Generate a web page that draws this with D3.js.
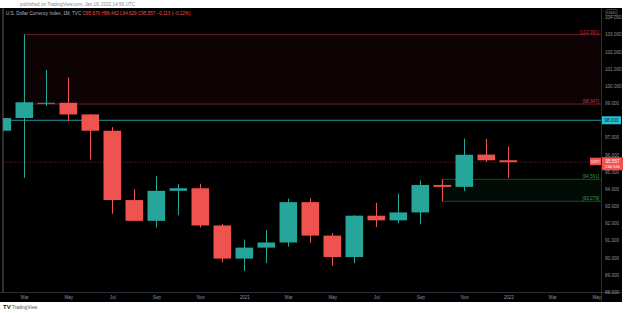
<!DOCTYPE html>
<html><head><meta charset="utf-8">
<script src="https://cdn.jsdelivr.net/npm/d3@7"></script>
<style>html,body{margin:0;padding:0;background:#fff;overflow:hidden}svg{display:block;font-family:"Liberation Sans",Arial,sans-serif}</style>
</head><body><svg id="c" width="625" height="313"></svg>
<script>
// ---- data (monthly DXY candles, Feb 2020 – Jan 2022) ----
const months = ["2020-02","2020-03","2020-04","2020-05","2020-06","2020-07","2020-08","2020-09","2020-10","2020-11","2020-12",
  "2021-01","2021-02","2021-03","2021-04","2021-05","2021-06","2021-07","2021-08","2021-09","2021-10","2021-11","2021-12","2022-01"];
const open  = [97.39,98.13,98.98,99.02,98.34,97.39,93.35,92.14,93.89,94.04,91.87,89.94,90.58,90.88,93.23,91.28,90.03,92.44,92.17,92.63,94.23,94.12,96.00,95.670];
const high  = [99.91,102.991,100.93,100.50,98.36,97.60,93.99,94.74,94.30,94.30,91.96,91.05,91.60,93.44,93.47,91.43,92.46,93.19,93.73,94.50,94.561,96.94,96.91,96.462];
const low   = [97.36,94.65,98.83,97.92,95.71,92.55,92.13,91.75,92.47,91.75,89.72,89.21,89.68,90.63,90.86,89.53,89.66,91.78,92.00,91.94,93.279,93.87,95.57,94.629];
const close = [98.13,99.05,99.02,98.34,97.39,93.35,92.14,93.89,94.04,91.87,89.94,90.58,90.88,93.23,91.28,90.03,92.44,92.17,92.63,94.23,94.12,95.99,95.67,95.557];
const timeTickIdx = [1,3,5,7,9,11,13,15,17,19,21,23,25,27];
const timeTickLabels = ["Mar","May","Jul","Sep","Nov","2021","Mar","May","Jul","Sep","Nov","2022","Mar","May"];
const priceTicks = [88,89,90,91,92,93,94,95,96,97,98,99,100,101,102,103,104];
const redZone = [102.991, 98.947];   // drawn range from Mar 2020
const greenZone = [94.561, 93.279];  // drawn range from Oct 2021
const hLine = 98.0;
const lastPrice = 95.557;

const svg = d3.select("#c");
const W = 625, H = 313;
const panel = {l:0, t:8, r:622, b:302};
const axisX = 601, axisY = 292;

const x = d3.scaleLinear().domain([0,27]).range([2.3, 596.3]);
const y = d3.scaleLinear().domain([88,104]).range([291.9, 17.3]);
const bodyW = 17.6;
const up = "#26a69a", dn = "#ef5350";

// header text
svg.append("text").attr("x",20).attr("y",6).attr("font-size",4.6).attr("fill","#8a8a8a")
  .text("published on TradingView.com, Jan 19, 2022 14:56 UTC");

// panel
svg.append("rect").attr("x",panel.l).attr("y",panel.t).attr("width",panel.r-panel.l).attr("height",panel.b-panel.t).attr("fill","#000");

const defs = svg.append("defs");
defs.append("clipPath").attr("id","plot").append("rect").attr("x",3).attr("y",panel.t).attr("width",axisX-3).attr("height",axisY-panel.t);
const g = svg.append("g").attr("clip-path","url(#plot)");

// zones
g.append("rect").attr("x",x(1)).attr("y",y(redZone[0])).attr("width",axisX-x(1)+5).attr("height",y(redZone[1])-y(redZone[0]))
  .attr("fill","#0d0304").attr("stroke","#6b1d24").attr("stroke-width",1);
g.append("rect").attr("x",x(20)).attr("y",y(greenZone[0])).attr("width",axisX-x(20)+5).attr("height",y(greenZone[1])-y(greenZone[0]))
  .attr("fill","#020b05").attr("stroke","#1d4a27").attr("stroke-width",1);

// horizontal cyan line
g.append("line").attr("x1",0).attr("x2",axisX).attr("y1",y(hLine)).attr("y2",y(hLine)).attr("stroke","#2696a8").attr("stroke-width",1);
// last price dotted line
g.append("line").attr("x1",0).attr("x2",axisX).attr("y1",y(lastPrice)).attr("y2",y(lastPrice)).attr("stroke","#9b2a33").attr("stroke-width",0.8).attr("stroke-dasharray","1,1.5");

// candles
const idx = d3.range(months.length);
const cg = g.append("g");
cg.selectAll("line.w").data(idx).join("line").attr("class","w")
  .attr("x1",i=>Math.round(x(i))+0.5).attr("x2",i=>Math.round(x(i))+0.5)
  .attr("y1",i=>y(high[i])).attr("y2",i=>y(low[i]))
  .attr("stroke",i=>close[i]>=open[i]?up:dn).attr("stroke-width",1);
cg.selectAll("rect.b").data(idx).join("rect").attr("class","b")
  .attr("x",i=>x(i)-bodyW/2).attr("width",bodyW)
  .attr("y",i=>y(Math.max(open[i],close[i])))
  .attr("height",i=>Math.max(1,Math.abs(y(open[i])-y(close[i]))))
  .attr("fill",i=>close[i]>=open[i]?up:dn);

// zone labels
const zl = [[redZone[0],"#c0303c"],[redZone[1],"#c0303c"],[greenZone[0],"#3a9a4a"],[greenZone[1],"#3a9a4a"]];
g.selectAll("text.zl").data(zl).join("text").attr("class","zl")
  .attr("x",599).attr("y",d=>y(d[0])-0.8).attr("text-anchor","end").attr("font-size",4.6).attr("fill",d=>d[1])
  .text(d=>"["+d3.format(".3f")(d[0])+"]");

// left border
svg.append("line").attr("x1",3).attr("x2",3).attr("y1",panel.t).attr("y2",axisY).attr("stroke","#777").attr("stroke-width",0.8);

// axes borders
svg.append("line").attr("x1",axisX+0.5).attr("x2",axisX+0.5).attr("y1",panel.t).attr("y2",panel.b).attr("stroke","#2a2e39");
svg.append("line").attr("x1",0).attr("x2",panel.r).attr("y1",axisY+0.5).attr("y2",axisY+0.5).attr("stroke","#2a2e39");

// price axis
const yAxis = d3.axisRight(y).tickValues(priceTicks).tickSize(0).tickPadding(4).tickFormat(d3.format(".3f"));
const ya = svg.append("g").attr("transform",`translate(${axisX},0)`).call(yAxis);
ya.select(".domain").remove();
ya.selectAll("text").attr("font-size",4.6).attr("fill","#8f929b").attr("font-family","Liberation Sans, Arial, sans-serif");

// USD box
svg.append("rect").attr("x",606).attr("y",9.5).attr("width",11).attr("height",6).attr("fill","none").attr("stroke","#5d606b").attr("stroke-width",0.6).attr("rx",1);
svg.append("text").attr("x",611.5).attr("y",14).attr("text-anchor","middle").attr("font-size",4.2).attr("fill","#9598a1").text("USD");

// cyan price label
svg.append("rect").attr("x",axisX+1).attr("y",y(hLine)-4).attr("width",19).attr("height",8).attr("fill","#22c3da");
svg.append("text").attr("x",axisX+10.5).attr("y",y(hLine)+1.6).attr("text-anchor","middle").attr("font-size",4.6).attr("fill","#06262b").text(d3.format(".3f")(hLine));

// last price label
const ly = y(lastPrice);
svg.append("rect").attr("x",590).attr("y",ly-4.5).attr("width",11).attr("height",7.5).attr("fill",dn);
svg.append("text").attr("x",595.5).attr("y",ly+1).attr("text-anchor","middle").attr("font-size",4.2).attr("fill","#fff").text("DXY");
svg.append("rect").attr("x",axisX+1).attr("y",ly-5).attr("width",21).attr("height",13).attr("fill",dn);
svg.append("text").attr("x",axisX+11.5).attr("y",ly+0.8).attr("text-anchor","middle").attr("font-size",4.6).attr("fill","#fff").text(d3.format(".3f")(lastPrice));
svg.append("text").attr("x",axisX+11.5).attr("y",ly+6.2).attr("text-anchor","middle").attr("font-size",4.2).attr("fill","#fff").text("13d 10h");

// time axis
const xa = svg.append("g").attr("transform",`translate(0,${axisY})`)
  .call(d3.axisBottom(x).tickValues(timeTickIdx).tickSize(0).tickPadding(4).tickFormat((d,i)=>timeTickLabels[i]));
xa.select(".domain").remove();
xa.selectAll("text").attr("font-size",4.6).attr("fill","#8f929b").attr("font-family","Liberation Sans, Arial, sans-serif");

// title
const t = svg.append("text").attr("x",6).attr("y",15).attr("font-size",4.6);
t.append("tspan").attr("fill","#b2b5be").text("U.S. Dollar Currency Index, 1M, TVC  ");
t.append("tspan").attr("fill","#ef5350").text("O95.670  H96.462  L94.629  C95.557  −0.113 (−0.12%)");

// footer logo
svg.append("text").attr("x",3).attr("y",309).attr("font-size",6).attr("font-weight","bold").attr("fill","#222").text("TV");
svg.append("text").attr("x",12).attr("y",309).attr("font-size",4.6).attr("fill","#555").text("TradingView");
</script></body></html>
